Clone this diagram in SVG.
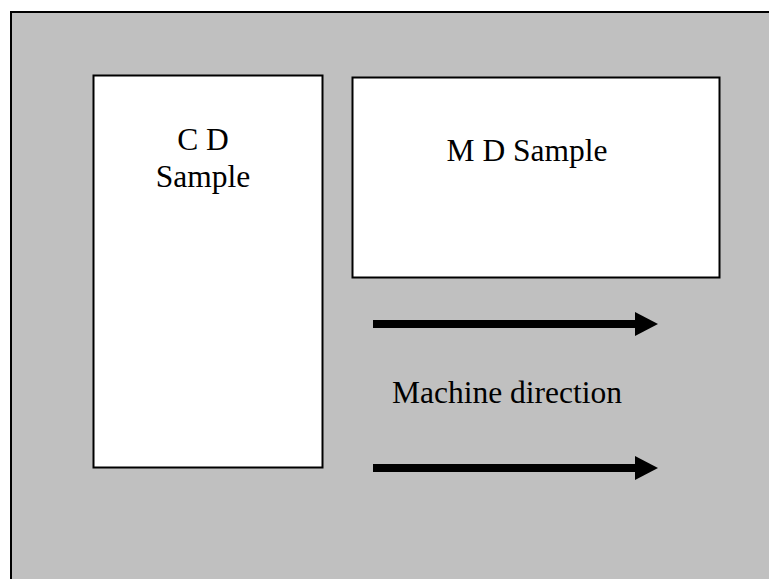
<svg xmlns="http://www.w3.org/2000/svg" width="769" height="579" viewBox="0 0 769 579">
  <style>
    .frame { fill: #c0c0c0; stroke: #000; stroke-width: 2; }
    .box { fill: #fff; stroke: #000; stroke-width: 2; }
    .lbl { font-family: "Liberation Serif", "Times New Roman", serif; font-size: 31.5px; fill: #000; text-anchor: middle; }
    .arrow { stroke: #000; stroke-width: 8; fill: none; }
  </style>
  <defs>
    <marker id="head" markerUnits="userSpaceOnUse" markerWidth="23" markerHeight="24" viewBox="0 0 23 24" refX="1" refY="12" orient="auto">
      <polygon points="0,0 23,12 0,24" fill="#000"/>
    </marker>
  </defs>
  <rect class="frame" x="11" y="12" width="770" height="580"/>
  <g id="cd-sample">
    <rect class="box" x="93.5" y="75.5" width="229" height="392"/>
    <text class="lbl" x="203" y="150">C D</text>
    <text class="lbl" x="203" y="186.5">Sample</text>
  </g>
  <g id="md-sample">
    <rect class="box" x="352.5" y="77.5" width="367" height="200"/>
    <text class="lbl" x="527" y="160.5">M D Sample</text>
  </g>
  <g id="machine-direction">
    <text class="lbl" x="507" y="403">Machine direction</text>
  </g>
  <g id="connectors">
    <path class="arrow" d="M373,324 H636" marker-end="url(#head)"/>
    <path class="arrow" d="M373,468 H636" marker-end="url(#head)"/>
  </g>
</svg>
